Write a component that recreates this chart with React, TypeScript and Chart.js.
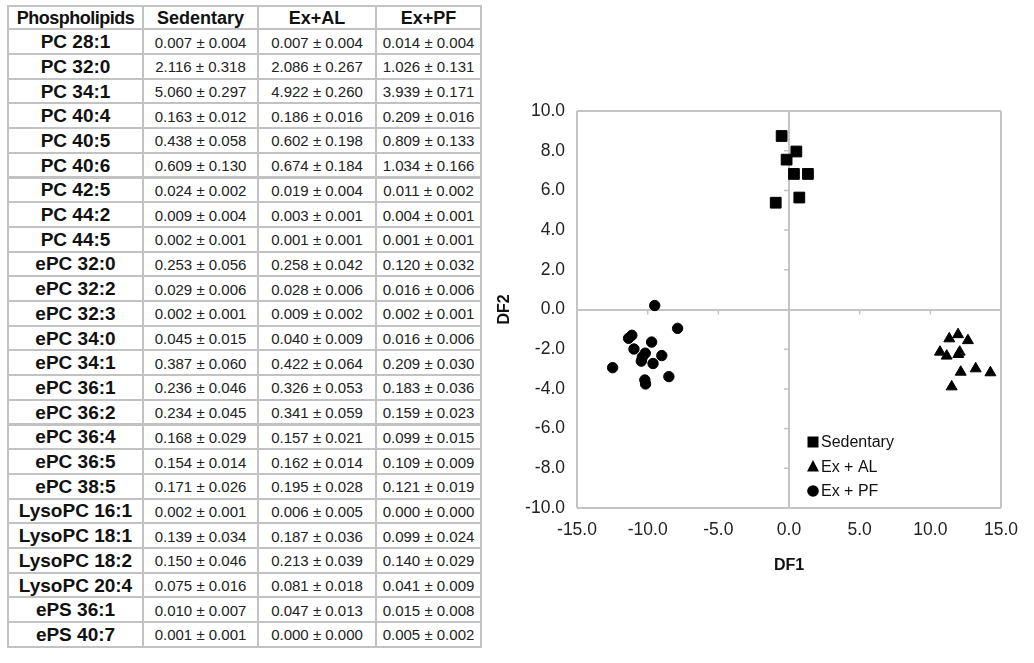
import React, { useEffect, useRef } from 'react';
import { Chart, registerables } from 'chart.js';

Chart.register(...registerables);

// ---------- Table data ----------
const tableHeaders = ['Phospholipids', 'Sedentary', 'Ex+AL', 'Ex+PF'];
const lipidNames = [
  'PC 28:1', 'PC 32:0', 'PC 34:1', 'PC 40:4', 'PC 40:5', 'PC 40:6', 'PC 42:5', 'PC 44:2', 'PC 44:5',
  'ePC 32:0', 'ePC 32:2', 'ePC 32:3', 'ePC 34:0', 'ePC 34:1', 'ePC 36:1', 'ePC 36:2', 'ePC 36:4', 'ePC 36:5', 'ePC 38:5',
  'LysoPC 16:1', 'LysoPC 18:1', 'LysoPC 18:2', 'LysoPC 20:4', 'ePS 36:1', 'ePS 40:7',
];
const sedentaryMean = [0.007, 2.116, 5.060, 0.163, 0.438, 0.609, 0.024, 0.009, 0.002, 0.253, 0.029, 0.002, 0.045, 0.387, 0.236, 0.234, 0.168, 0.154, 0.171, 0.002, 0.139, 0.150, 0.075, 0.010, 0.001];
const sedentarySE = [0.004, 0.318, 0.297, 0.012, 0.058, 0.130, 0.002, 0.004, 0.001, 0.056, 0.006, 0.001, 0.015, 0.060, 0.046, 0.045, 0.029, 0.014, 0.026, 0.001, 0.034, 0.046, 0.016, 0.007, 0.001];
const exAlMean = [0.007, 2.086, 4.922, 0.186, 0.602, 0.674, 0.019, 0.003, 0.001, 0.258, 0.028, 0.009, 0.040, 0.422, 0.326, 0.341, 0.157, 0.162, 0.195, 0.006, 0.187, 0.213, 0.081, 0.047, 0.000];
const exAlSE = [0.004, 0.267, 0.260, 0.016, 0.198, 0.184, 0.004, 0.001, 0.001, 0.042, 0.006, 0.002, 0.009, 0.064, 0.053, 0.059, 0.021, 0.014, 0.028, 0.005, 0.036, 0.039, 0.018, 0.013, 0.000];
const exPfMean = [0.014, 1.026, 3.939, 0.209, 0.809, 1.034, 0.011, 0.004, 0.001, 0.120, 0.016, 0.002, 0.016, 0.209, 0.183, 0.159, 0.099, 0.109, 0.121, 0.000, 0.099, 0.140, 0.041, 0.015, 0.005];
const exPfSE = [0.004, 0.131, 0.171, 0.016, 0.133, 0.166, 0.002, 0.001, 0.001, 0.032, 0.006, 0.001, 0.006, 0.030, 0.036, 0.023, 0.015, 0.009, 0.019, 0.000, 0.024, 0.029, 0.009, 0.008, 0.002];

// ---------- Scatter data (DF1 = x, DF2 = y) ----------
const groupLabels = ['Sedentary', 'Ex + AL', 'Ex + PF'];
const sedentaryDF1 = [-0.52, 0.52, -0.17, 0.35, 1.34, 0.73, -0.94];
const sedentaryDF2 = [8.74, 7.96, 7.55, 6.83, 6.83, 5.64, 5.38];
const exAlDF1 = [11.34, 11.96, 12.66, 10.68, 11.16, 11.98, 12.08, 12.15, 13.21, 14.25, 11.51];
const exAlDF2 = [-1.47, -1.26, -1.56, -2.14, -2.34, -2.26, -2.14, -3.15, -2.98, -3.18, -3.89];
const exPfDF1 = [-9.5, -7.88, -11.35, -11.12, -9.72, -10.97, -10.17, -10.38, -9.0, -10.45, -9.62, -12.48, -8.5, -10.2, -10.15];
const exPfDF2 = [0.2, -0.95, -1.45, -1.3, -1.64, -1.99, -2.2, -2.4, -2.32, -2.6, -2.72, -2.93, -3.38, -3.55, -3.75];

// ---------- Axis ticks ----------
const xTicks = [-15, -10, -5, 0, 5, 10, 15];
const yTicks = [-10, -8, -6, -4, -2, 0, 2, 4, 6, 8, 10];

// ---------- Layout / style constants ----------
const FONT = '"Liberation Sans", Arial, Helvetica, sans-serif';
const TABLE_LINE = '#c2c2c2';
const colEdges = [8, 143, 258, 376, 481];
const headerTop = 6;
const headerBottom = 29.3;
const rowHeight = 24.7;
const AXIS_GREY = '#c4c4c4';

const fmt = (m: number, s: number) => `${m.toFixed(3)} ± ${s.toFixed(3)}`;

const pairs = (xs: number[], ys: number[]) => xs.map((x, i) => ({ x, y: ys[i] }));

function drawMarker(ctx: CanvasRenderingContext2D, style: string, cx: number, cy: number) {
  ctx.beginPath();
  if (style === 'rect') {
    ctx.rect(cx - 5.5, cy - 5.5, 11, 11);
  } else if (style === 'triangle') {
    ctx.moveTo(cx, cy - 6.5);
    ctx.lineTo(cx + 6, cy + 5);
    ctx.lineTo(cx - 6, cy + 5);
    ctx.closePath();
  } else {
    ctx.arc(cx, cy, 5.8, 0, Math.PI * 2);
  }
  ctx.fill();
}

const zeroAxisTicksPlugin = {
  id: 'zeroAxisTicks',
  beforeDatasetsDraw(chart: any) {
    const { ctx, scales } = chart;
    const xs = scales.x;
    const ys = scales.y;
    const x0 = xs.getPixelForValue(0);
    const y0 = ys.getPixelForValue(0);
    ctx.save();
    ctx.strokeStyle = AXIS_GREY;
    ctx.lineWidth = 1.5;
    ctx.beginPath();
    xs.ticks.forEach((t: any) => {
      if (t.value === 0 || t.value === xs.min || t.value === xs.max) return;
      const px = xs.getPixelForValue(t.value);
      ctx.moveTo(px, y0);
      ctx.lineTo(px, y0 + 5);
    });
    ys.ticks.forEach((t: any) => {
      if (t.value === 0 || t.value === ys.min || t.value === ys.max) return;
      const py = ys.getPixelForValue(t.value);
      ctx.moveTo(x0 - 5, py);
      ctx.lineTo(x0, py);
    });
    ctx.stroke();
    ctx.restore();
  },
};

const insideLegendPlugin = {
  id: 'insideLegend',
  afterDatasetsDraw(chart: any) {
    const { ctx, chartArea } = chart;
    ctx.save();
    ctx.font = `16px ${FONT}`;
    ctx.textBaseline = 'middle';
    ctx.textAlign = 'left';
    chart.data.datasets.forEach((ds: any, i: number) => {
      const cy = chartArea.top + 331 + i * 24.5;
      const cx = chartArea.left + 236;
      ctx.fillStyle = '#000';
      drawMarker(ctx, ds.pointStyle, cx, cy);
      ctx.fillStyle = '#111';
      ctx.fillText(ds.label, chartArea.left + 244, cy + 1);
    });
    ctx.restore();
  },
};

// Only the frame (outer ticks) and the zero line are drawn as grid lines.
const makeGridColor = (ticks: number[]) => (c: any) => {
  const v = c && c.tick ? c.tick.value : null;
  if (v === null) return 'transparent';
  return v === 0 || v === ticks[0] || v === ticks[ticks.length - 1] ? AXIS_GREY : 'transparent';
};

const clearScalePadding = (s: any) => {
  s.paddingLeft = 0;
  s.paddingRight = 0;
  s.paddingTop = 0;
  s.paddingBottom = 0;
};

export default function App() {
  const canvasRef = useRef<HTMLCanvasElement>(null);

  useEffect(() => {
    if (!canvasRef.current) return;
    Chart.defaults.font.family = FONT;
    const chart = new Chart(canvasRef.current, {
      type: 'scatter',
      data: {
        datasets: [
          {
            label: groupLabels[0],
            data: pairs(sedentaryDF1, sedentaryDF2),
            pointStyle: 'rect',
            pointRadius: 7.6,
            backgroundColor: '#000',
            borderColor: '#000',
            borderWidth: 1,
          },
          {
            label: groupLabels[1],
            data: pairs(exAlDF1, exAlDF2),
            pointStyle: 'triangle',
            pointRadius: 6.3,
            backgroundColor: '#000',
            borderColor: '#000',
            borderWidth: 1,
          },
          {
            label: groupLabels[2],
            data: pairs(exPfDF1, exPfDF2),
            pointStyle: 'circle',
            pointRadius: 5.2,
            backgroundColor: '#000',
            borderColor: '#000',
            borderWidth: 1,
          },
        ],
      },
      options: {
        responsive: false,
        animation: false,
        devicePixelRatio: 1,
        layout: { padding: { left: 0, top: 16, right: 19, bottom: 0 } },
        plugins: {
          legend: { display: false },
          tooltip: { enabled: false },
        },
        scales: {
          x: {
            type: 'linear',
            min: xTicks[0],
            max: xTicks[xTicks.length - 1],
            ticks: {
              stepSize: xTicks[1] - xTicks[0],
              callback: (v: any) => Number(v).toFixed(1),
              font: { size: 17.5, family: FONT },
              color: '#222',
              padding: 12,
              maxRotation: 0,
              autoSkip: false,
            },
            grid: { color: makeGridColor(xTicks), lineWidth: 2, drawTicks: false },
            border: { display: false },
            title: {
              display: true,
              text: 'DF1',
              font: { size: 16, weight: 'bold', family: FONT },
              color: '#111',
              padding: { top: 4, bottom: 15 },
            },
            afterFit: (s: any) => {
              s.height = 82;
              clearScalePadding(s);
            },
          },
          y: {
            type: 'linear',
            min: yTicks[0],
            max: yTicks[yTicks.length - 1],
            ticks: {
              stepSize: yTicks[1] - yTicks[0],
              callback: (v: any) => Number(v).toFixed(1),
              font: { size: 17.5, family: FONT },
              color: '#222',
              padding: 12,
              autoSkip: false,
            },
            grid: { color: makeGridColor(yTicks), lineWidth: 2, drawTicks: false },
            border: { display: false },
            title: {
              display: true,
              text: 'DF2',
              font: { size: 16, weight: 'bold', family: FONT },
              color: '#111',
              padding: { top: 5, bottom: 4 },
            },
            afterFit: (s: any) => {
              s.width = 87;
              clearScalePadding(s);
            },
          },
        },
      } as any,
      plugins: [zeroAxisTicksPlugin, insideLegendPlugin],
    });
    return () => chart.destroy();
  }, []);

  const rows: React.ReactNode[] = [];
  const cell = (key: string, col: number, top: number, h: number, content: string, style: React.CSSProperties) => (
    <div
      key={key}
      style={{
        position: 'absolute',
        left: colEdges[col] - 1,
        top: top - 1,
        width: colEdges[col + 1] - colEdges[col] + 2,
        height: h + 2,
        boxSizing: 'border-box',
        border: `2px solid ${TABLE_LINE}`,
        display: 'flex',
        alignItems: 'center',
        justifyContent: 'center',
        whiteSpace: 'nowrap',
        overflow: 'visible',
        ...style,
      }}
    >
      {content}
    </div>
  );

  tableHeaders.forEach((h, j) => {
    rows.push(
      cell(`h${j}`, j, headerTop, headerBottom - headerTop, h, {
        fontWeight: 'bold',
        fontSize: 18,
        letterSpacing: j === 0 ? '-0.5px' : 0,
        color: '#111',
        paddingTop: 1,
      })
    );
  });

  lipidNames.forEach((name, i) => {
    const top = headerBottom + i * rowHeight;
    rows.push(cell(`n${i}`, 0, top, rowHeight, name, { fontWeight: 'bold', fontSize: 19, color: '#111', paddingTop: 1 }));
    const vals = [fmt(sedentaryMean[i], sedentarySE[i]), fmt(exAlMean[i], exAlSE[i]), fmt(exPfMean[i], exPfSE[i])];
    vals.forEach((v, j) => {
      rows.push(cell(`v${i}_${j}`, j + 1, top, rowHeight, v, { fontSize: 15, color: '#222', paddingTop: 1 }));
    });
  });

  return (
    <div
      style={{
        position: 'absolute',
        left: 0,
        top: 0,
        width: 1034,
        height: 663,
        background: '#fff',
        overflow: 'hidden',
        fontFamily: FONT,
      }}
    >
      {rows}
      <canvas
        ref={canvasRef}
        width={530}
        height={495}
        style={{ position: 'absolute', left: 490, top: 95, width: 530, height: 495 }}
      />
    </div>
  );
}
